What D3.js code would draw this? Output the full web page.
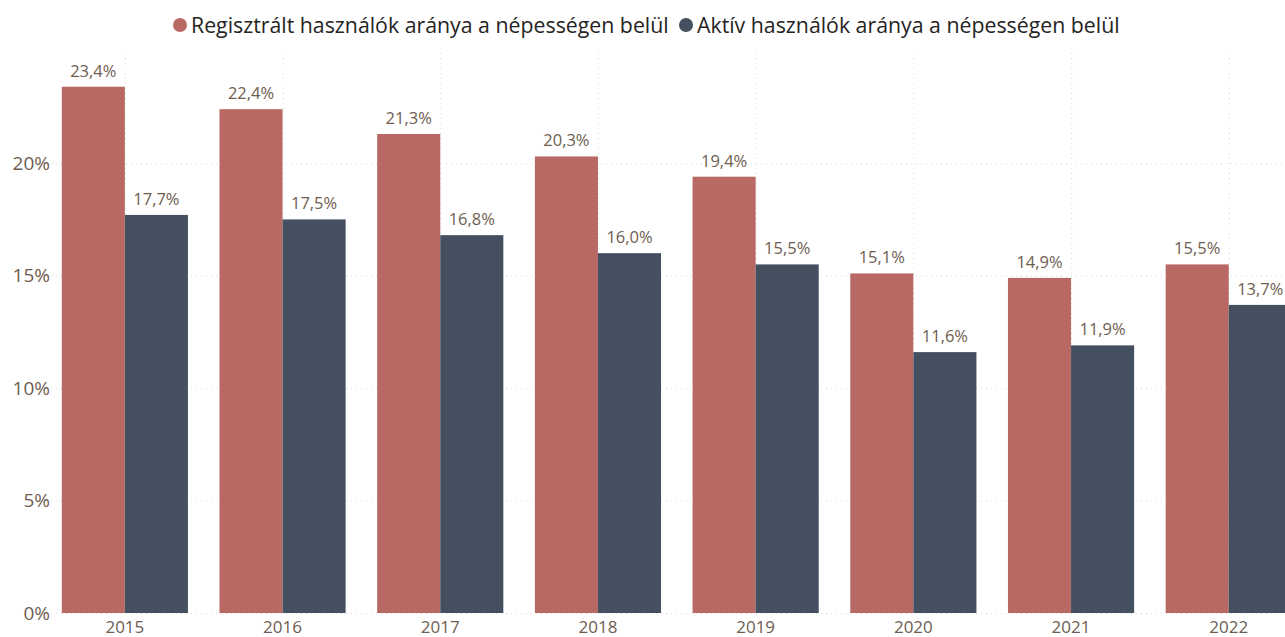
<!DOCTYPE html>
<html lang="hu">
<head>
  <meta charset="utf-8">
  <title>Regisztrált és aktív használók</title>
  <style>
    body {
      margin: 0;
      background-color: #fff;
      overflow: hidden;
    }
    svg text {
      font-family: "Open Sans", "Noto Sans", sans-serif;
    }
    .grid line {
      stroke: #d9d9d9;
      stroke-dasharray: 1 4;
    }
  </style>
  <script src="https://d3js.org/d3.v7.min.js"></script>
</head>
<body>
<script>

    let years = ['2015', '2016', '2017', '2018', '2019', '2020', '2021', '2022']
    let registered = [23.4, 22.4, 21.3, 20.3, 19.4, 15.1, 14.9, 15.5]
    let active = [17.7, 17.5, 16.8, 16.0, 15.5, 11.6, 11.9, 13.7]
    let seriesNames = ['Regisztrált használók aránya a népességen belül', 'Aktív használók aránya a népességen belül']
    let seriesColors = ['#b86963', '#44505f']
    let yTicks = [0, 5, 10, 15, 20]

    let width = 1285
    let height = 637
    let plotTop = 53
    let plotBottom = 613
    let plotLeft = 46
    let step = 157.7

    let svg = d3.select('body')
                .append('svg')
                .attr('width', width)
                .attr('height', height)

    let xScale = d3.scaleBand()
                   .domain(years)
                   .range([plotLeft, plotLeft + step * years.length])
                   .paddingInner(0.2)
                   .paddingOuter(0.1)

    let xSub = d3.scaleBand()
                 .domain([0, 1])
                 .range([0, xScale.bandwidth()])

    let yScale = d3.scaleLinear()
                   .domain([0, 24.9])
                   .range([plotBottom, plotTop])

    let fmt = (v) => v.toFixed(1).replace('.', ',') + '%'

    // gridlines
    let grid = svg.append('g').attr('class', 'grid')
    grid.selectAll('.hline')
        .data(yTicks)
        .enter()
        .append('line')
        .attr('x1', plotLeft)
        .attr('x2', width)
        .attr('y1', (d) => yScale(d) + 0.5)
        .attr('y2', (d) => yScale(d) + 0.5)
    grid.selectAll('.vline')
        .data(years)
        .enter()
        .append('line')
        .attr('x1', (d) => xScale(d) + xScale.bandwidth() / 2 + 0.5)
        .attr('x2', (d) => xScale(d) + xScale.bandwidth() / 2 + 0.5)
        .attr('y1', plotTop)
        .attr('y2', plotBottom)

    // y axis labels
    let yAxis = d3.axisLeft(yScale)
                  .tickValues(yTicks)
                  .tickFormat((d) => d + '%')
                  .tickSize(0)
                  .tickPadding(0)
    let yg = svg.append('g')
                .attr('transform', 'translate(50, 0)')
                .call(yAxis)
    yg.select('.domain').remove()
    yg.selectAll('text')
      .attr('fill', '#6e5d50')
      .attr('font-size', 19)
      .attr('font-family', '"Open Sans", sans-serif')

    // x axis labels
    let xAxis = d3.axisBottom(xScale).tickSize(0).tickPadding(0)
    let xg = svg.append('g')
                .attr('transform', `translate(0, ${plotBottom + 8})`)
                .call(xAxis)
    xg.select('.domain').remove()
    xg.selectAll('text')
      .attr('fill', '#6e5d50')
      .attr('font-size', 17)
      .attr('font-family', '"Open Sans", sans-serif')

    // bars
    let series = [registered, active]
    series.forEach((vals, s) => {
        let g = svg.append('g')
        g.selectAll('rect')
         .data(vals)
         .enter()
         .append('rect')
         .attr('x', (d, i) => xScale(years[i]) + xSub(s))
         .attr('width', xSub.bandwidth())
         .attr('y', (d) => yScale(d))
         .attr('height', (d) => plotBottom - yScale(d))
         .attr('fill', seriesColors[s])

        g.selectAll('text')
         .data(vals)
         .enter()
         .append('text')
         .attr('x', (d, i) => xScale(years[i]) + xSub(s) + xSub.bandwidth() / 2)
         .attr('y', (d) => yScale(d) - 10)
         .attr('text-anchor', 'middle')
         .attr('font-size', 16.5)
         .attr('fill', '#6e5d50')
         .text(fmt)
    })

    // legend
    let legendX = [180, 686]
    seriesNames.forEach((name, i) => {
        svg.append('circle')
           .attr('cx', legendX[i])
           .attr('cy', 25)
           .attr('r', 7)
           .attr('fill', seriesColors[i])
        svg.append('text')
           .attr('x', legendX[i] + 11)
           .attr('y', 33)
           .attr('font-size', 21.3)
           .attr('fill', '#252423')
           .text(name)
    })

</script>
</body>
</html>
